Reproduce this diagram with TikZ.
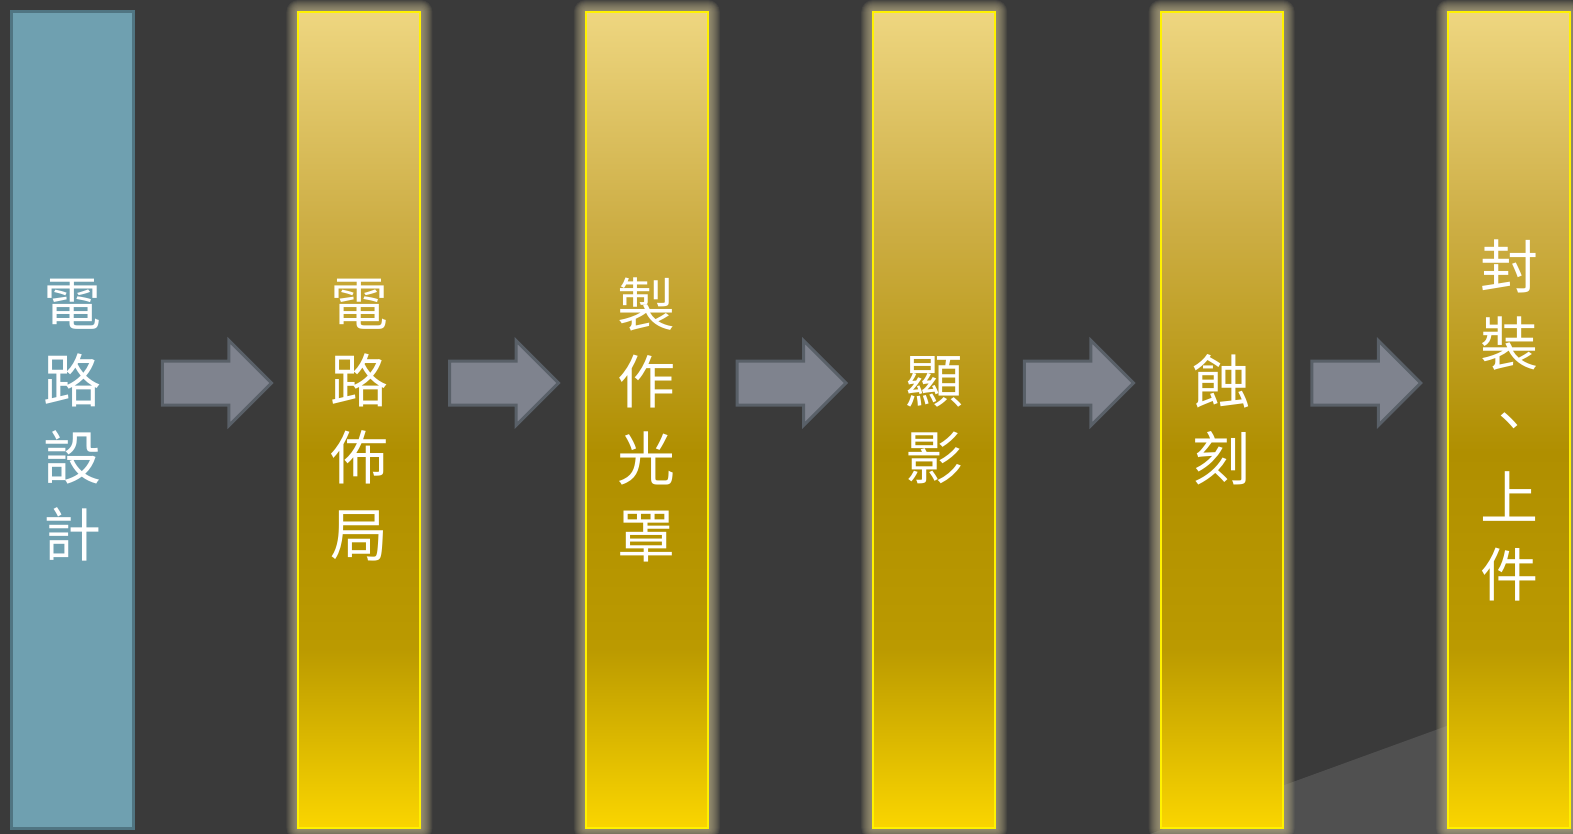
\documentclass[tikz,border=0pt]{standalone}
\usepackage{fontspec}
\newfontfamily\cjk{Noto Sans CJK TC}
\usetikzlibrary{shapes.arrows,calc}
\definecolor{bg}{HTML}{3A3A3A}
\definecolor{lightbg}{HTML}{505050}
\definecolor{bluefill}{HTML}{6FA0B0}
\definecolor{blueline}{HTML}{507582}
\definecolor{gtop}{HTML}{EED680}
\definecolor{gup}{HTML}{CDAE45}
\definecolor{gmid}{HTML}{B08F00}
\definecolor{gmid2}{HTML}{BB9A00}
\definecolor{gbot}{HTML}{FAD500}
\definecolor{glowc}{HTML}{C4B88E}
\definecolor{arrfill}{HTML}{7F838E}
\definecolor{arrline}{HTML}{596068}
\pgfdeclareverticalshading{goldsh}{100bp}{color(0bp)=(gbot); color(25bp)=(gbot); color(36bp)=(gmid2); color(48bp)=(gmid); color(62bp)=(gup); color(75bp)=(gtop); color(100bp)=(gtop)}
\tikzset{
  boxtext/.style={text=white, font=\cjk\fontsize{58}{77}\selectfont, align=center, inner sep=0pt,
    minimum width=122pt, minimum height=816pt},
  bluebox/.style={boxtext, fill=bluefill, draw=blueline, line width=3pt},
  goldbox/.style={boxtext, shading=goldsh, draw=yellow, line width=2pt},
  flowarrow/.style={single arrow, single arrow head extend=20.5pt, single arrow tip angle=90,
    minimum height=109pt, inner xsep=0pt, inner ysep=20.5pt, fill=arrfill, draw=arrline, line width=3pt}
}
\begin{document}
\begin{tikzpicture}[x=1pt,y=-1pt]
\fill[bg] (0,0) rectangle (1573,834);
\useasboundingbox (0,0) rectangle (1573,834);
\fill[lightbg] (1150,834) -- (1573,680) -- (1573,834) -- cycle;
% glows
\foreach \bx in {298.4,585.8,873.2,1160.6,1448}{
  \foreach \g in {1,...,12}{
    \fill[glowc, opacity=0.09, rounded corners=\g pt] (\bx-\g,12-\g) rectangle (\bx+122+\g,828+\g);
  }
}
\node[bluebox] (b1) at (72,420) {電\\路\\設\\計};
\node[goldbox] (b2) at (359.4,420) {電\\路\\佈\\局};
\node[goldbox] (b3) at (646.8,420) {製\\作\\光\\罩};
\node[goldbox] (b4) at (934.2,420) {顯\\影};
\node[goldbox] (b5) at (1221.6,420) {蝕\\刻};
\node[goldbox] (b6) at (1509,420) {封\\裝\\、\\上\\件};
\node[flowarrow] (a1) at ($($(b1.east)!0.5!(b2.west)$)+(-10,-37)$) {};
\node[flowarrow] (a2) at ($($(b2.east)!0.5!(b3.west)$)+(-10,-37)$) {};
\node[flowarrow] (a3) at ($($(b3.east)!0.5!(b4.west)$)+(-10,-37)$) {};
\node[flowarrow] (a4) at ($($(b4.east)!0.5!(b5.west)$)+(-10,-37)$) {};
\node[flowarrow] (a5) at ($($(b5.east)!0.5!(b6.west)$)+(-10,-37)$) {};
\end{tikzpicture}
\end{document}
